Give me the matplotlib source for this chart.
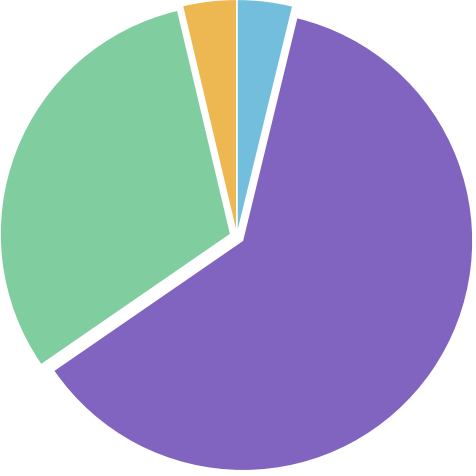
import matplotlib
matplotlib.use("Agg")
import matplotlib.pyplot as plt

labels = ["A", "B", "C", "D"]
values = [3.8, 61.6, 30.9, 3.7]
colors = ["#73BEDC", "#8064BF", "#80CD9F", "#EDB851"]
explode = [0.033, 0.033, 0.033, 0.033]

fig = plt.figure(figsize=(4.76, 4.76), dpi=100)
ax = fig.add_axes([0, 0, 1, 1])
ax.pie(values, colors=colors, explode=explode, startangle=90, counterclock=False,
       wedgeprops={"linewidth": 0})
ax.set_xlim(-1.0345, 1.044)
ax.set_ylim(-1.045, 1.033)
ax.set_aspect("equal")
ax.axis("off")
fig.savefig("out.png", dpi=100)
